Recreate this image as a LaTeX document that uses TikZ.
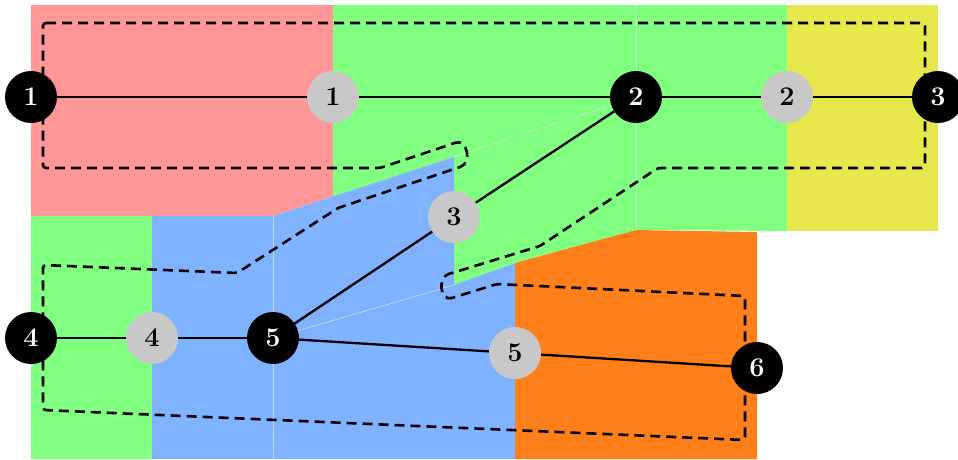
\documentclass[tikz,border=0pt]{standalone}
\definecolor{pinkc}{RGB}{255,151,151}
\definecolor{greenc}{RGB}{128,255,128}
\definecolor{bluec}{RGB}{128,179,255}
\definecolor{yellowc}{RGB}{230,230,77}
\definecolor{orangec}{RGB}{255,128,26}
\definecolor{grayc}{RGB}{200,200,200}
\begin{document}
\begin{tikzpicture}[x=1pt,y=-1pt,
  bnode/.style={circle,fill=black,text=white,minimum size=52pt,inner sep=0pt,font=\fontsize{27}{30}\selectfont\bfseries},
  gnode/.style={circle,fill=grayc,text=black,minimum size=52pt,inner sep=0pt,font=\fontsize{27}{30}\selectfont\bfseries},
  edge/.style={line width=2.3pt},
  route/.style={line width=2.6pt,dash pattern=on 10pt off 6pt,rounded corners=3pt},
  seam/.style={white,opacity=0.45,line width=0.6pt}]
\useasboundingbox (0,0) rectangle (958,459);
% regions
\fill[pinkc] (31,5) -- (333,5) -- (333,196.5) -- (273,216) -- (31,216) -- cycle;
\fill[greenc] (333,5) -- (636,5) -- (636,97) -- (454,157) -- (333,196.5) -- cycle;
\fill[greenc] (454,157) -- (636,97) -- (636,230) -- (515,263) -- (454,285) -- cycle;
\fill[greenc] (636,5) -- (787,5) -- (787,231) -- (636,230) -- cycle;
\fill[yellowc] (787,5) -- (938,5) -- (938,231) -- (787,231) -- cycle;
\fill[greenc] (31,216) rectangle (152,459);
\fill[bluec] (152,216) -- (273,216) -- (273,459) -- (152,459) -- cycle;
\fill[bluec] (273,216) -- (454,157) -- (454,285) -- (273,338) -- cycle;
\fill[bluec] (273,338) -- (454,285) -- (515,263) -- (515,459) -- (273,459) -- cycle;
\fill[orangec] (515,263) -- (636,230) -- (757,232) -- (757,459) -- (515,459) -- cycle;
% seams
\draw[seam] (636,5) -- (636,230);
\draw[seam] (454,157) -- (636,97);
\draw[seam] (273,216) -- (273,459);
\draw[seam] (273,338) -- (454,285);
% dashed route
\draw[route] (43,23) -- (925,23) -- (925,168) -- (658,168) -- (540,246) -- (452,273)
  .. controls (437,277) and (440,302) .. (455,297)
  -- (497,284) -- (745,296) -- (745,440) -- (43,410) -- (43,265) -- (237,273)
  -- (338,208) -- (457,168)
  .. controls (473,163) and (467,138) .. (452,144)
  -- (380,168) -- (43,168) -- cycle;
% nodes
\node[bnode] (b1) at (31,97) {1};
\node[gnode] (g1) at (333,97) {1};
\node[bnode] (b2) at (636,97) {2};
\node[gnode] (g2) at (787,97) {2};
\node[bnode] (b3) at (938,97) {3};
\node[gnode] (g3) at (454,217) {3};
\node[bnode] (b4) at (31,338) {4};
\node[gnode] (g4) at (152,338) {4};
\node[bnode] (b5) at (273,338) {5};
\node[gnode] (g5) at (515,353) {5};
\node[bnode] (b6) at (757,368) {6};
% edges
\draw[edge] (b1) -- (g1);
\draw[edge] (g1) -- (b2);
\draw[edge] (b2) -- (g2);
\draw[edge] (g2) -- (b3);
\draw[edge] (b2) -- (g3);
\draw[edge] (g3) -- (b5);
\draw[edge] (b4) -- (g4);
\draw[edge] (g4) -- (b5);
\draw[edge] (b5) -- (g5);
\draw[edge] (g5) -- (b6);
\end{tikzpicture}
\end{document}
